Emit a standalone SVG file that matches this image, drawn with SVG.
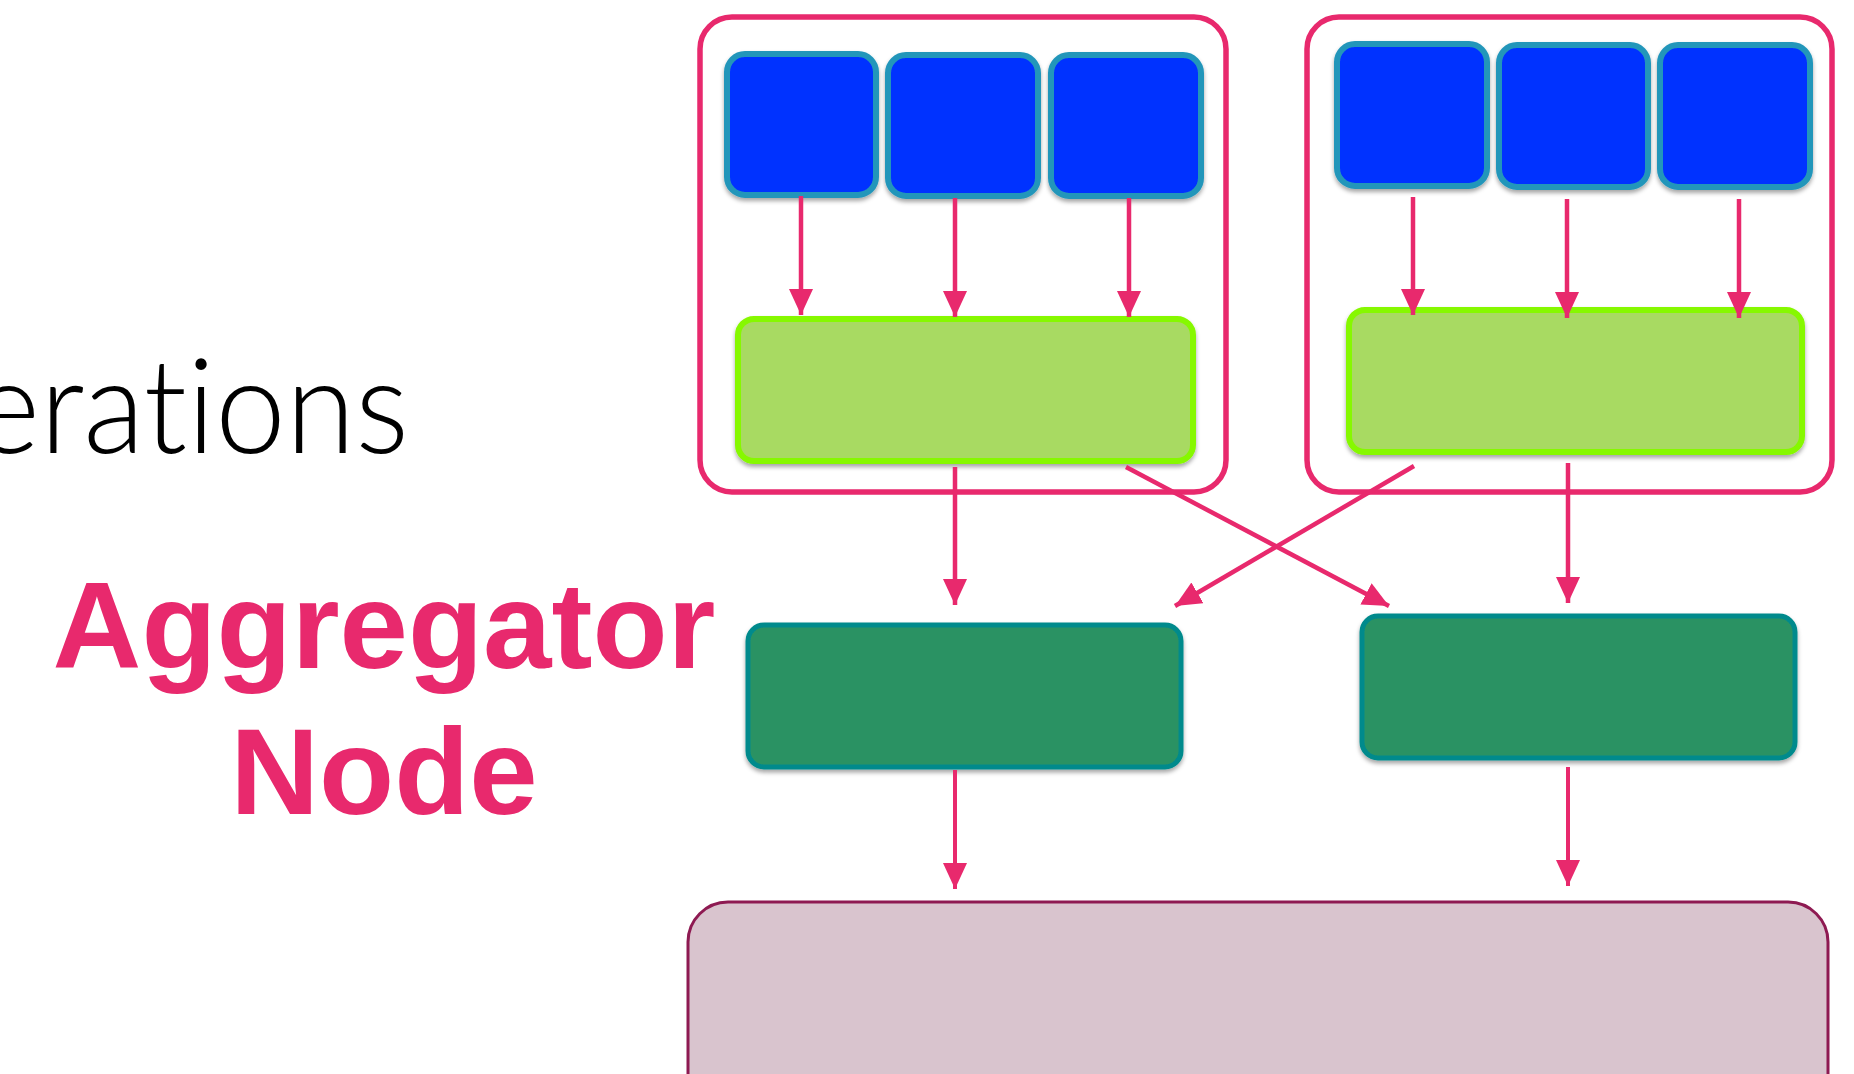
<svg xmlns="http://www.w3.org/2000/svg" width="1854" height="1074" viewBox="0 0 1854 1074">
  <style>
    .frame { fill: #ffffff; stroke: #E8296D; stroke-width: 5.5; }
    .worker { fill: #0433FF; stroke: #2396BA; stroke-width: 6; filter: url(#shadow); }
    .combiner { fill: #A8DA62; stroke: #86F800; stroke-width: 6; filter: url(#shadow); }
    .aggregator { fill: #2A9264; stroke: #008A8C; stroke-width: 5; filter: url(#shadow); }
    .sink { fill: #D9C4CE; stroke: #8E1A52; stroke-width: 3; }
    .flow { stroke: #E8296D; stroke-width: 4.5; fill: none; marker-end: url(#head); }
    .flow-thin { stroke: #E8296D; stroke-width: 4; fill: none; marker-end: url(#head); }
    .title { font-family: "Lato", "Open Sans", "Liberation Sans", sans-serif; font-weight: 300; font-size: 132px; fill: #000000; font-variant-ligatures: none; font-feature-settings: "liga" 0, "clig" 0; }
    .label { font-family: "Liberation Sans", Arial, sans-serif; font-weight: bold; font-size: 123px; fill: #E8296D; text-anchor: middle; }
  </style>
  <defs>
    <filter id="shadow" x="-10%" y="-10%" width="120%" height="130%">
      <feDropShadow dx="0" dy="3" stdDeviation="2" flood-color="#000000" flood-opacity="0.35"/>
    </filter>
    <marker id="head" viewBox="0 0 26 24" refX="26" refY="12" markerWidth="26" markerHeight="24" markerUnits="userSpaceOnUse" orient="auto">
      <path d="M0,0 L26,12 L0,24 Z" fill="#E8296D"/>
    </marker>
  </defs>

  <rect width="1854" height="1074" fill="#ffffff"/>

  <!-- heading fragment and side label -->
  <text class="title" x="-26" y="453" textLength="435" lengthAdjust="spacingAndGlyphs">erations</text>
  <g id="label-aggregator-node">
    <text class="label" x="384" y="668">Aggregator</text>
    <text class="label" x="384" y="814">Node</text>
  </g>

  <!-- machine frames -->
  <g id="machine-left">
    <rect class="frame" x="700" y="17" width="526" height="475" rx="32"/>
  </g>
  <g id="machine-right">
    <rect class="frame" x="1307" y="17" width="525" height="475" rx="32"/>
  </g>

  <!-- worker tasks -->
  <g id="worker-l1"><rect class="worker" x="727" y="54" width="149" height="141" rx="18"/></g>
  <g id="worker-l2"><rect class="worker" x="888" y="55" width="150" height="141" rx="18"/></g>
  <g id="worker-l3"><rect class="worker" x="1051" y="55" width="150" height="141" rx="18"/></g>
  <g id="worker-r1"><rect class="worker" x="1337" y="44" width="150" height="142" rx="18"/></g>
  <g id="worker-r2"><rect class="worker" x="1499" y="45" width="149" height="142" rx="18"/></g>
  <g id="worker-r3"><rect class="worker" x="1660" y="45" width="150" height="142" rx="18"/></g>

  <!-- local combiners -->
  <g id="combiner-left"><rect class="combiner" x="738" y="319" width="455" height="142" rx="16"/></g>
  <g id="combiner-right"><rect class="combiner" x="1349" y="310" width="453" height="142" rx="16"/></g>

  <!-- aggregator nodes -->
  <g id="aggregator-left"><rect class="aggregator" x="748" y="625" width="433" height="142" rx="16"/></g>
  <g id="aggregator-right"><rect class="aggregator" x="1362" y="616" width="433" height="142" rx="16"/></g>

  <!-- final sink -->
  <g id="sink"><rect class="sink" x="688" y="902" width="1140" height="220" rx="40"/></g>

  <!-- connectors -->
  <g id="connectors">
    <line class="flow" x1="801" y1="196" x2="801" y2="315"/>
    <line class="flow" x1="955" y1="198" x2="955" y2="317"/>
    <line class="flow" x1="1129" y1="198" x2="1129" y2="317"/>
    <line class="flow" x1="1413" y1="197" x2="1413" y2="315"/>
    <line class="flow" x1="1567" y1="199" x2="1567" y2="318"/>
    <line class="flow" x1="1739" y1="199" x2="1739" y2="318"/>
    <line class="flow" x1="955" y1="467" x2="955" y2="605"/>
    <line class="flow" x1="1126" y1="467" x2="1389" y2="606"/>
    <line class="flow" x1="1414" y1="466" x2="1175" y2="606"/>
    <line class="flow" x1="1568" y1="463" x2="1568" y2="603"/>
    <line class="flow-thin" x1="955" y1="770" x2="955" y2="889"/>
    <line class="flow-thin" x1="1568" y1="767" x2="1568" y2="886"/>
  </g>
</svg>
